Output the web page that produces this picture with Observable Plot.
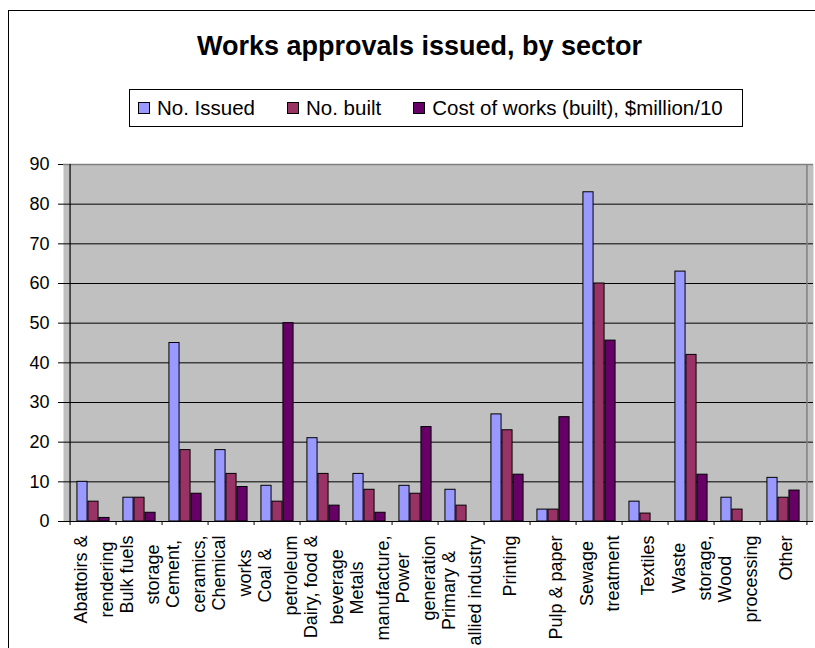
<!DOCTYPE html>
<html>
<head>
<meta charset="utf-8">
<script src="https://cdn.jsdelivr.net/npm/d3@7"></script>
<script src="https://cdn.jsdelivr.net/npm/@observablehq/plot@0.6"></script>
<style>
  html, body { margin: 0; padding: 0; background: #fff; overflow: hidden; }
  body { width: 815px; height: 648px; position: relative; font-family: "Liberation Sans", Arial, sans-serif; color: #000; }
  #border { position: absolute; left: 8px; top: 10px; width: 900px; height: 800px; border: 1px solid #000; box-sizing: border-box; pointer-events: none; z-index: 3; }
  #title { position: absolute; left: 0; width: 839px; top: 33px; text-align: center; font-weight: bold; font-size: 27px; line-height: 27px; white-space: nowrap; z-index: 2; }
  #legend { position: absolute; left: 129px; top: 89px; width: 614px; height: 38px; box-sizing: border-box; border: 1px solid #000; display: flex; align-items: center; padding-left: 8px; font-size: 20.5px; background: #fff; z-index: 2; }
  #legend .item { display: flex; align-items: center; margin-right: 32px; white-space: nowrap; }
  #legend .sw { width: 12px; height: 12px; box-sizing: border-box; border: 1px solid #000; margin-right: 7px; }
  #chart { position: absolute; left: 0; top: 0; z-index: 1; }
</style>
</head>
<body>
<div id="border"></div>
<div id="title">Works approvals issued, by sector</div>
<div id="legend"></div>
<div id="chart"></div>
<script>
// ---- data ----
const categories = [
  "Abattoirs & rendering", "Bulk fuels storage", "Cement, ceramics,", "Chemical works",
  "Coal & petroleum", "Dairy, food & beverage", "Metals manufacture,", "Power generation",
  "Primary & allied industry", "Printing", "Pulp & paper", "Sewage treatment",
  "Textiles", "Waste storage,", "Wood processing", "Other"
];
const categoryLabels = [
  "Abattoirs &\nrendering", "Bulk fuels\nstorage", "Cement,\nceramics,", "Chemical\nworks",
  "Coal &\npetroleum", "Dairy, food &\nbeverage", "Metals\nmanufacture,", "Power\ngeneration",
  "Primary &\nallied industry", "Printing", "Pulp & paper", "Sewage\ntreatment",
  "Textiles", "Waste\nstorage,", "Wood\nprocessing", "Other"
];
const seriesNames = ["No. Issued", "No. built", "Cost of works (built), $million/10"];
const issued = [10, 6, 45, 18, 9, 21, 12, 9, 8, 27, 3, 83, 5, 63, 6, 11];
const built  = [5, 6, 18, 12, 5, 12, 8, 7, 4, 23, 3, 60, 2, 42, 3, 6];
const cost   = [0.9, 2.2, 7, 8.7, 50, 4, 2.2, 23.8, 0, 11.8, 26.3, 45.6, 0, 11.8, 0, 7.8];
const yTicks = [0, 10, 20, 30, 40, 50, 60, 70, 80, 90];
const colors = ["#9999FF", "#993366", "#660066"];

// ---- layout ----
const width = 815, height = 648;
const margin = {left: 63, right: 2, top: 164, bottom: 127};
const step = (width - margin.left - margin.right) / categories.length;
const barW = step / 4.26;
const pad = (step - 3 * barW) / 2;
const labelLineHeight = 1.44;

const rows = categories.map((c, i) => ({category: c, label: categoryLabels[i], v0: issued[i], v1: built[i], v2: cost[i]}));

// legend
const legend = document.getElementById("legend");
seriesNames.forEach((name, i) => {
  const item = document.createElement("div");
  item.className = "item";
  const sw = document.createElement("div");
  sw.className = "sw";
  sw.style.background = colors[i];
  const t = document.createElement("span");
  t.textContent = name;
  item.appendChild(sw); item.appendChild(t);
  legend.appendChild(item);
});

const barMarks = [0, 1, 2].map(i => Plot.barY(rows, {
  x: "category", y: "v" + i, fill: colors[i], stroke: "#000", strokeWidth: 1,
  insetLeft: pad + i * barW, insetRight: step - pad - (i + 1) * barW
}));

const svg = Plot.plot({
  width, height,
  marginLeft: margin.left, marginRight: margin.right, marginTop: margin.top, marginBottom: margin.bottom,
  style: {background: "transparent", fontFamily: "'Liberation Sans', Arial, sans-serif", color: "#000"},
  x: {type: "band", domain: categories, padding: 0, axis: null},
  y: {domain: [0, 90], axis: null},
  marks: [
    Plot.frame({fill: "#C0C0C0"}),
    Plot.ruleY(yTicks.filter(t => t > 0 && t < 90), {stroke: "#000", strokeWidth: 1}),
    Plot.ruleY([90], {stroke: "#808080", strokeWidth: 1.5}),
    Plot.ruleX([categories[categories.length - 1]], {dx: step / 2, stroke: "#808080", strokeWidth: 1.5}),
    ...barMarks,
    Plot.ruleY([0], {stroke: "#000", strokeWidth: 1.2}),
    Plot.ruleX([categories[0]], {dx: -step / 2, stroke: "#000", strokeWidth: 1.2}),
    Plot.ruleX(categories, {x: d => d, y1: 0, y2: 0, insetBottom: -4, dx: -step / 2, stroke: "#000"}),
    Plot.ruleX([categories[categories.length - 1]], {y1: 0, y2: 0, insetBottom: -4, dx: step / 2, stroke: "#000"}),
    Plot.axisY({ticks: yTicks, tickSize: 5, tickPadding: 9, fontSize: 18, label: null, tickFormat: d => String(d)}),
    Plot.text(rows, {
      x: "category", text: "label", frameAnchor: "bottom", dy: 14,
      rotate: -90, textAnchor: "end", lineAnchor: "middle", lineHeight: labelLineHeight,
      fontSize: 18, fill: "#000"
    })
  ]
});
document.getElementById("chart").appendChild(svg);

// centre wrapped lines of each rotated label on the band and relative to the longest line (as in the original)
svg.querySelectorAll('g[aria-label="text"] text').forEach(t => {
  const spans = Array.from(t.querySelectorAll("tspan"));
  if (spans.length < 2) return;
  const n = spans.length;
  const maxLen = d3.max(spans, s => s.getComputedTextLength());
  t.setAttribute("text-anchor", "middle");
  t.removeAttribute("dy");
  spans.forEach((s, i) => {
    s.setAttribute("x", -maxLen / 2);
    s.removeAttribute("dy");
    s.setAttribute("y", `${0.35 + (i - (n - 1) / 2) * labelLineHeight}em`);
  });
});
</script>
</body>
</html>
